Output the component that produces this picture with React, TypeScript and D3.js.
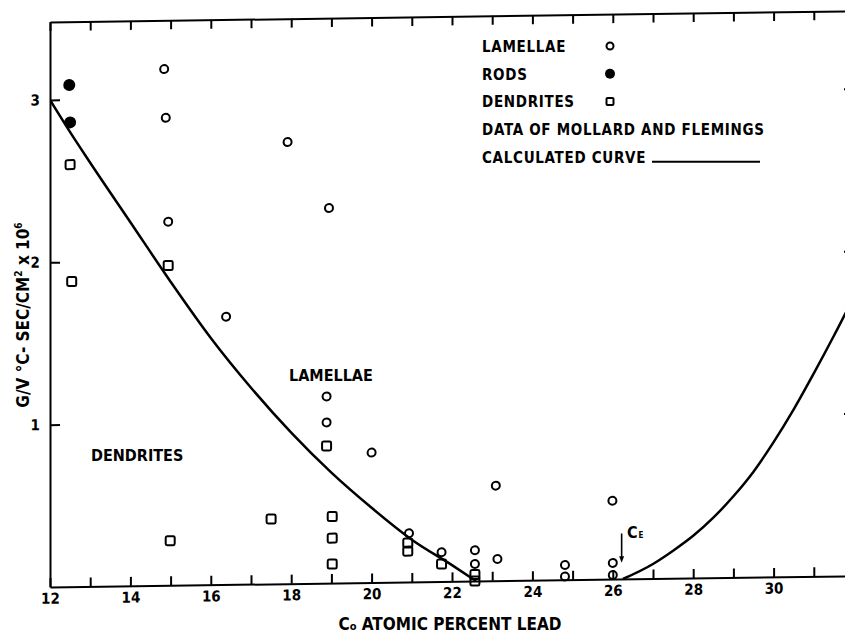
import React, { useEffect, useRef } from "react";
import * as d3 from "d3";

// growth rate data
const lamellae: [number, number][] = [
  [14.84, 3.18], [14.88, 2.88], [14.94, 2.24], [16.38, 1.65], [17.91, 2.72],
  [18.94, 2.31], [18.88, 1.15], [18.88, 0.99], [20.0, 0.8], [20.93, 0.3],
  [21.74, 0.18], [22.57, 0.19], [22.57, 0.105], [23.09, 0.586], [23.13, 0.134],
  [24.81, 0.091], [24.81, 0.02], [25.99, 0.483], [26.0, 0.1], [26.0, 0.025],
];
const rods: [number, number][] = [
  [12.48, 3.09],
  [12.5, 2.86],
];
const dendrites: [number, number][] = [
  [12.5, 2.6], [12.54, 1.88], [14.94, 1.97], [14.99, 0.275], [17.5, 0.4],
  [18.88, 0.845], [19.02, 0.41], [19.02, 0.277], [19.02, 0.117], [20.9, 0.24],
  [20.9, 0.19], [21.74, 0.108], [22.57, 0.04], [22.57, 0.0],
];
// calculated curve, two branches either side of the eutectic
const calcLeft: [number, number][] = [
  [12, 3.0], [12.5, 2.8], [13, 2.61], [14, 2.24], [15, 1.87], [16, 1.52],
  [17, 1.21], [18, 0.93], [19, 0.68], [20, 0.46], [21, 0.26], [22, 0.1], [22.6, 0],
];
const calcRight: [number, number][] = [
  [26.25, 0], [27, 0.09], [27.5, 0.17], [28, 0.26], [28.5, 0.37], [29, 0.5],
  [29.5, 0.65], [30, 0.83], [30.5, 1.03], [31, 1.25], [31.5, 1.48], [32, 1.72],
];
const xTickLabels = [12, 14, 16, 18, 20, 22, 24, 26, 28, 30];
const yTickLabels = [1, 2, 3];
const legendLabels = ["LAMELLAE", "RODS", "DENDRITES", "DATA OF MOLLARD AND FLEMINGS", "CALCULATED CURVE"];
const ceX = 26.22; // eutectic composition arrow

const W = 845;
const H = 636;
const FONT = "'DejaVu Sans Condensed', 'Liberation Sans Narrow', 'DejaVu Sans', sans-serif";

const App = () => {
  const ref = useRef<SVGSVGElement>(null);

  useEffect(() => {
    const svg = d3.select(ref.current);
    svg.selectAll("*").remove();

    const margin = { top: 22, right: -9, bottom: 49, left: 50 };
    const width = W - margin.left - margin.right;
    const height = H - margin.top - margin.bottom;

    const x = d3.scaleLinear().domain([12, 32]).range([margin.left, margin.left + width]);
    const y = d3.scaleLinear().domain([0, 3.48]).range([margin.top + height, margin.top]);

    svg.append("rect").attr("width", W).attr("height", H).attr("fill", "#fff");

    // the scanned figure sits slightly tilted
    const tilt = 0.8;
    const tiltTan = Math.tan((tilt * Math.PI) / 180);
    const g = svg
      .append("g")
      .attr("transform", `translate(0,${margin.left * tiltTan}) skewY(${-tilt})`);

    g.append("clipPath")
      .attr("id", "plotClip")
      .append("rect")
      .attr("x", margin.left)
      .attr("y", margin.top)
      .attr("width", width)
      .attr("height", height);

    const allTicks = d3.range(12, 33);

    const styleAxis = (sel: any) => {
      sel.selectAll("path, line").attr("stroke", "#000").attr("stroke-width", 2);
      sel.selectAll("text")
        .attr("font-family", FONT)
        .attr("font-size", 15)
        .attr("font-weight", "bold")
        .attr("fill", "#000");
    };

    g.append("g")
      .attr("transform", `translate(0,${margin.top + height})`)
      .call(
        d3.axisBottom(x)
          .tickValues(allTicks)
          .tickSize(-9)
          .tickSizeOuter(0)
          .tickPadding(6)
          .tickFormat((d: any) => (xTickLabels.includes(+d) ? String(d) : ""))
      )
      .call(styleAxis);

    g.append("g")
      .attr("transform", `translate(0,${margin.top})`)
      .call(d3.axisTop(x).tickValues(allTicks).tickSize(-9).tickSizeOuter(0).tickFormat(() => ""))
      .call(styleAxis);

    g.append("g")
      .attr("transform", `translate(${margin.left},0)`)
      .call(
        d3.axisLeft(y)
          .tickValues(yTickLabels)
          .tickSize(-10)
          .tickSizeOuter(0)
          .tickPadding(10)
          .tickFormat((d: any) => String(d))
      )
      .call(styleAxis);

    g.append("g")
      .attr("transform", `translate(${x(32)},0)`)
      .call(d3.axisRight(y).tickValues(yTickLabels).tickSize(-10).tickSizeOuter(0).tickFormat(() => ""))
      .call(styleAxis);

    // calculated curve
    const line = d3
      .line<[number, number]>()
      .x((d) => x(d[0]))
      .y((d) => y(d[1]))
      .curve(d3.curveMonotoneX);

    [calcLeft, calcRight].forEach((branch) => {
      g.append("path")
        .attr("d", line(branch))
        .attr("clip-path", "url(#plotClip)")
        .attr("fill", "none")
        .attr("stroke", "#000")
        .attr("stroke-width", 2.5);
    });

    // data markers
    g.selectAll(".lam")
      .data(lamellae)
      .enter()
      .append("circle")
      .attr("class", "lam")
      .attr("cx", (d) => x(d[0]))
      .attr("cy", (d) => y(d[1]))
      .attr("r", 4)
      .attr("fill", "none")
      .attr("stroke", "#000")
      .attr("stroke-width", 2);

    g.selectAll(".rod")
      .data(rods)
      .enter()
      .append("circle")
      .attr("class", "rod")
      .attr("cx", (d) => x(d[0]))
      .attr("cy", (d) => y(d[1]))
      .attr("r", 6)
      .attr("fill", "#000");

    const sq = 9;
    g.selectAll(".den")
      .data(dendrites)
      .enter()
      .append("rect")
      .attr("class", "den")
      .attr("x", (d) => x(d[0]) - sq / 2)
      .attr("y", (d) => y(d[1]) - sq / 2)
      .attr("width", sq)
      .attr("height", sq)
      .attr("rx", 1.5)
      .attr("fill", "none")
      .attr("stroke", "#000")
      .attr("stroke-width", 2);

    // C_E arrow
    const ax = x(ceX);
    g.append("line")
      .attr("x1", ax)
      .attr("x2", ax)
      .attr("y1", y(0.28))
      .attr("y2", y(0.13))
      .attr("stroke", "#000")
      .attr("stroke-width", 1.6);
    g.append("path")
      .attr("d", `M${ax - 2.5},${y(0.14)} L${ax + 2.5},${y(0.14)} L${ax},${y(0.1)} Z`)
      .attr("fill", "#000");

    const txt = (sel: any, size: number) =>
      sel.attr("font-family", FONT).attr("font-size", size).attr("font-weight", "bold").attr("fill", "#000");

    const ce = svg.append("text").attr("x", 627).attr("y", 538).call(txt, 16);
    ce.append("tspan").text("C");
    ce.append("tspan").attr("font-size", 8).attr("dx", 1).text("E");

    // region labels
    svg.append("text").attr("x", 289).attr("y", 381).text("LAMELLAE").call(txt, 16);
    svg.append("text").attr("x", 91).attr("y", 461).text("DENDRITES").call(txt, 16);

    // axis titles
    const xt = svg
      .append("text")
      .attr("x", 450)
      .attr("y", 630)
      .attr("text-anchor", "middle")
      .call(txt, 17);
    xt.append("tspan").text("C");
    xt.append("tspan").attr("font-size", 11).text("o");
    xt.append("tspan").text(" ATOMIC PERCENT LEAD");

    const yt = svg
      .append("text")
      .attr("transform", "translate(29,315) rotate(-90)")
      .attr("text-anchor", "middle")
      .call(txt, 17);
    yt.append("tspan").text("G/V °C- SEC/CM");
    yt.append("tspan").attr("font-size", 10).attr("dy", -7).text("2");
    yt.append("tspan").attr("dy", 7).text(" x 10");
    yt.append("tspan").attr("font-size", 10).attr("dy", -7).text("6");

    // legend
    const lx = 482;
    const rowY = (i: number) => 52 + i * 27.7;
    const legend = svg.append("g");
    legendLabels.forEach((label, i) => {
      legend
        .append("text")
        .attr("x", lx)
        .attr("y", rowY(i))
        .attr("letter-spacing", 0.7)
        .text(label)
        .call(txt, 15);
    });
    const symX = 610;
    legend.append("circle").attr("cx", symX).attr("cy", rowY(0) - 6).attr("r", 3.5)
      .attr("fill", "none").attr("stroke", "#000").attr("stroke-width", 2);
    legend.append("circle").attr("cx", symX).attr("cy", rowY(1) - 6).attr("r", 5).attr("fill", "#000");
    legend.append("rect").attr("x", symX - 3.5).attr("y", rowY(2) - 9.5).attr("width", 7).attr("height", 7)
      .attr("rx", 1).attr("fill", "none").attr("stroke", "#000").attr("stroke-width", 2);
    legend.append("line")
      .attr("x1", 652).attr("x2", 760)
      .attr("y1", rowY(4) - 1).attr("y2", rowY(4) - 1)
      .attr("stroke", "#000").attr("stroke-width", 2);
  }, []);

  return (
    <svg
      ref={ref}
      width={W}
      height={H}
      style={{ position: "absolute", left: 0, top: 0, background: "#fff" }}
    />
  );
};

export default App;
